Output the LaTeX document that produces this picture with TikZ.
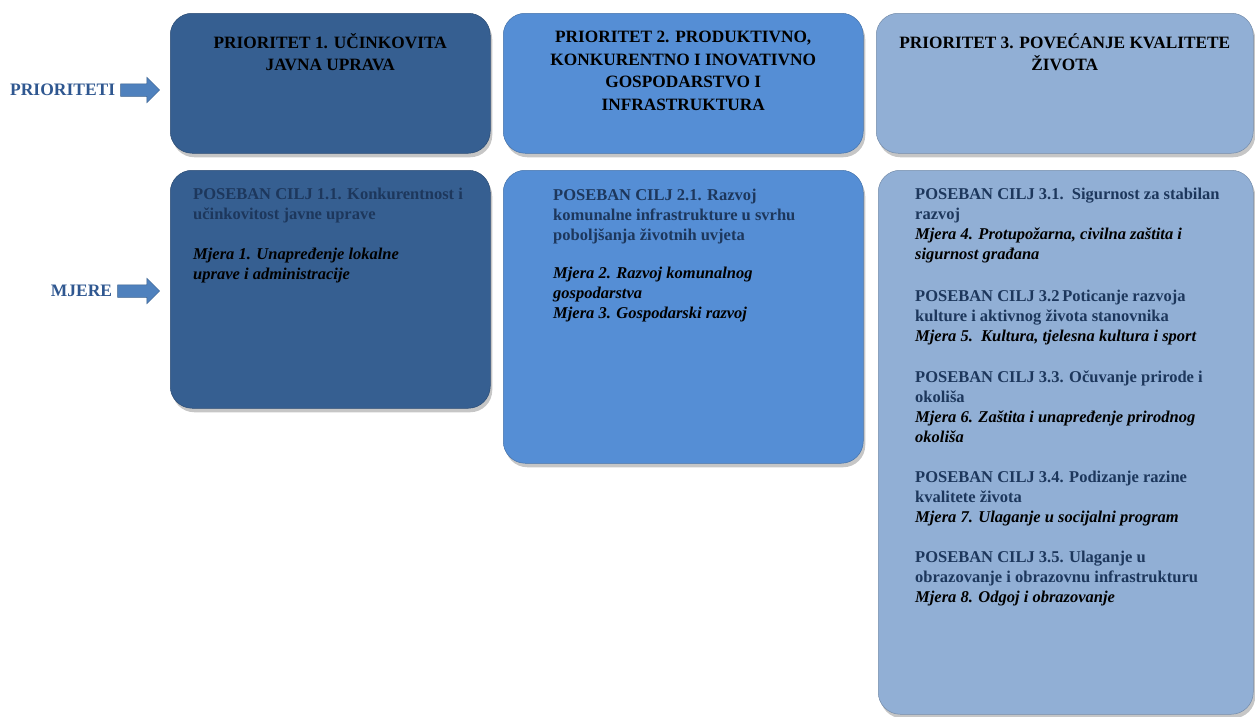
\documentclass[tikz,border=0pt]{standalone}
\usepackage{fontspec}
\setmainfont{Liberation Serif}
\usepackage{xcolor}
\usetikzlibrary{positioning,shapes.arrows,shadows}
\definecolor{prioDark}{HTML}{365F91}
\definecolor{prioMid}{HTML}{558ED5}
\definecolor{prioLight}{HTML}{91AFD5}
\definecolor{ciljText}{HTML}{1D375C}
\definecolor{labelBlue}{HTML}{2F5790}
\definecolor{arrowBlue}{HTML}{4F81BD}
\newcommand{\mjera}[1]{{\color{black}\itshape #1}}
\tikzset{
  prio box/.style={rectangle,rounded corners=22pt,draw=#1!80!black,fill=#1,
    line width=.5pt,anchor=north west,
    drop shadow={shadow xshift=2pt,shadow yshift=-4pt,opacity=.45}},
  title text/.style={anchor=north,inner sep=0pt,align=center,
    font=\fontsize{17.3}{22.5}\selectfont\bfseries},
  cilj text/.style={anchor=north west,inner sep=0pt,align=left,text=ciljText,
    font=\fontsize{16.5}{20}\selectfont\bfseries},
  side label/.style={inner sep=0pt,text=labelBlue,
    font=\fontsize{17.5}{20}\selectfont\bfseries}
}
\begin{document}
\begin{tikzpicture}[
  x=1pt,
  y=-1pt,
  blockarrow/.style={
    single arrow,
    fill=arrowBlue,
    draw=arrowBlue!75!black,
    line width=.5pt,
    inner sep=6pt,
    single arrow head extend=6.5pt,
    single arrow head indent=0pt,
    minimum height=39pt
  }
]
  \useasboundingbox (0,0) rectangle (1255,716);

  % --------------------------------------------------------------
  % The three priorities (upper row).
  % --------------------------------------------------------------
  \node[prio box=prioDark,minimum width=320pt,minimum height=140pt]
    (prio1) at (170,13) {};
  \node[prio box=prioMid,minimum width=360pt,minimum height=140pt]
    (prio2) at (503,13) {};
  \node[prio box=prioLight,minimum width=377pt,minimum height=140pt]
    (prio3) at (876,13) {};

  \node[title text,below=20pt of prio1.north]
    {PRIORITET 1. UČINKOVITA\\ JAVNA UPRAVA};
  \node[title text,below=18pt of prio2.north]
    {PRIORITET 2. PRODUKTIVNO,\\ KONKURENTNO I INOVATIVNO\\
     GOSPODARSTVO I\\ INFRASTRUKTURA};
  \node[title text,below=20pt of prio3.north]
    {PRIORITET 3. POVEĆANJE KVALITETE\\ ŽIVOTA};

  % --------------------------------------------------------------
  % Specific goals and measures (lower row).
  % --------------------------------------------------------------
  \node[prio box=prioDark,minimum width=320pt,minimum height=238pt]
    (cilj1) at (170,170) {};
  \node[prio box=prioMid,minimum width=360pt,minimum height=293pt]
    (cilj2) at (503,170) {};
  \node[prio box=prioLight,minimum width=375pt,minimum height=544pt]
    (cilj3) at (878,170) {};

  \node[cilj text,below right=18pt and 23pt of cilj1.north west]
    {POSEBAN CILJ 1.1. Konkurentnost i\\ učinkovitost javne uprave\\[20pt]
     \mjera{Mjera 1. Unapređenje lokalne}\\ \mjera{uprave i administracije}};

  \node[cilj text,below right=19pt and 50pt of cilj2.north west]
    {POSEBAN CILJ 2.1. Razvoj\\ komunalne infrastrukture u svrhu\\
     poboljšanja životnih uvjeta\\[18pt]
     \mjera{Mjera 2. Razvoj komunalnog}\\ \mjera{gospodarstva}\\
     \mjera{Mjera 3. Gospodarski razvoj}};

  \node[cilj text,below right=18pt and 37pt of cilj3.north west]
    {POSEBAN CILJ 3.1.\ \ Sigurnost za stabilan\\ razvoj\\
     \mjera{Mjera 4. Protupožarna, civilna zaštita i}\\
     \mjera{sigurnost građana}\\[22pt]
     POSEBAN CILJ 3.2\,Poticanje razvoja\\
     kulture i aktivnog života stanovnika\\
     \mjera{Mjera 5.\ \ Kultura, tjelesna kultura i sport}\\[21pt]
     POSEBAN CILJ 3.3. Očuvanje prirode i\\ okoliša\\
     \mjera{Mjera 6. Zaštita i unapređenje prirodnog}\\ \mjera{okoliša}\\[20pt]
     POSEBAN CILJ 3.4. Podizanje razine\\ kvalitete života\\
     \mjera{Mjera 7. Ulaganje u socijalni program}\\[20pt]
     POSEBAN CILJ 3.5. Ulaganje u\\
     obrazovanje i obrazovnu infrastrukturu\\
     \mjera{Mjera 8. Odgoj i obrazovanje}};

  % --------------------------------------------------------------
  % Row labels with their block arrows.
  % --------------------------------------------------------------
  \node[blockarrow] (arrPrio) at (137,90) {};
  \node[blockarrow,minimum height=42pt] (arrMjere) at (135.5,291) {};

  \node[side label,left=5pt of arrPrio] (lblPrio) {PRIORITETI};
  \node[side label,left=5pt of arrMjere] (lblMjere) {MJERE};

\end{tikzpicture}
\end{document}
